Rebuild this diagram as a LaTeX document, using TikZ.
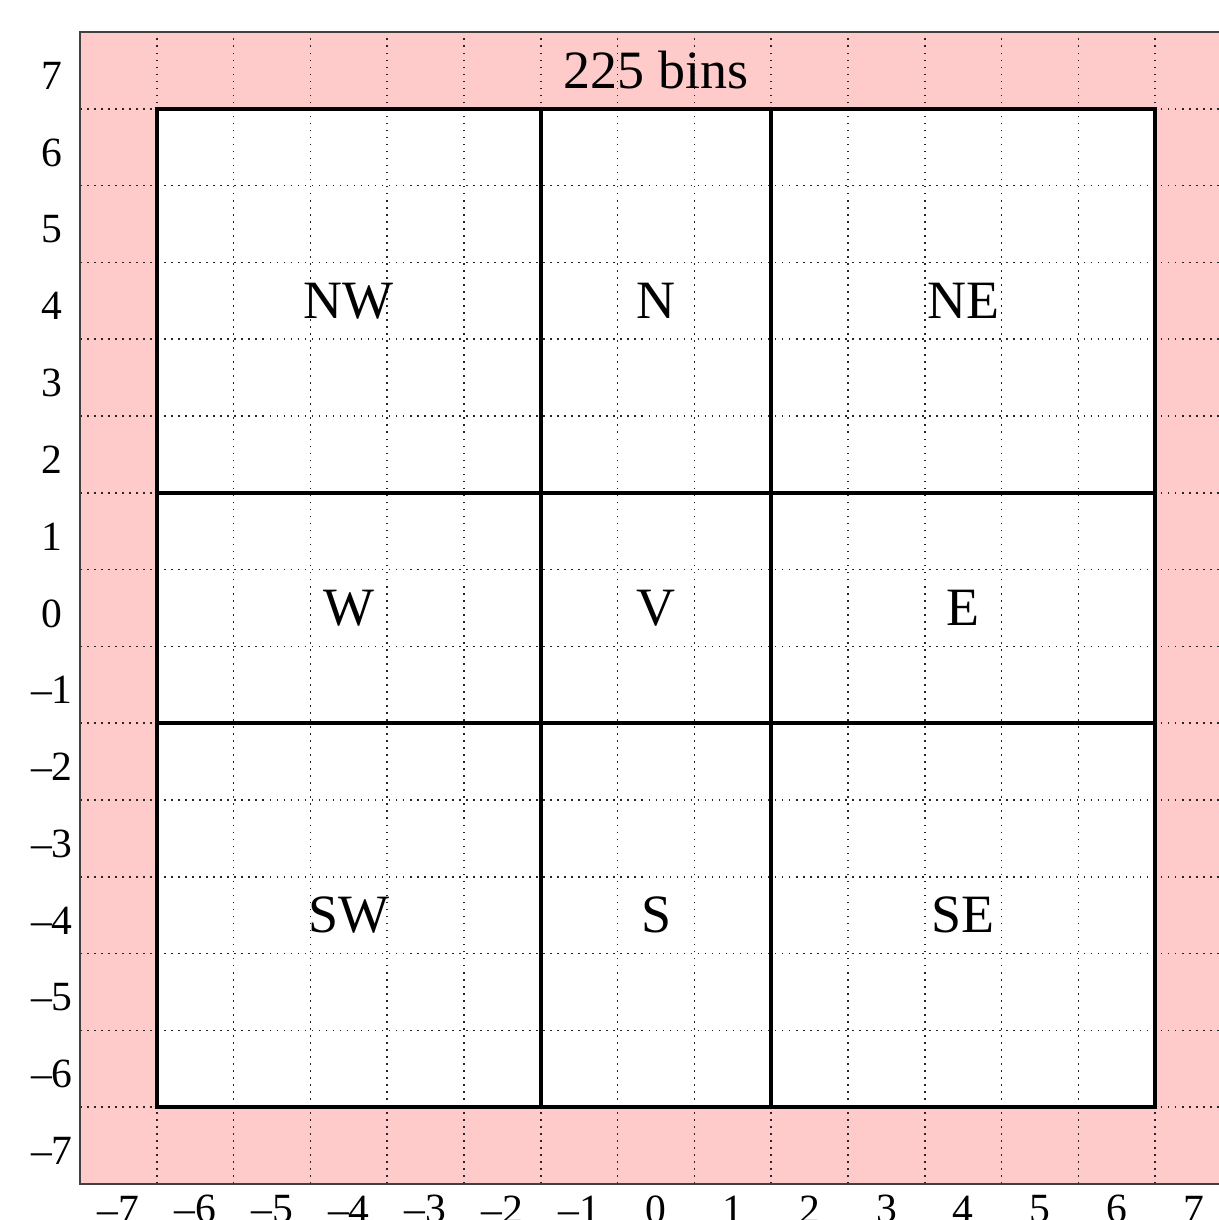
\documentclass[tikz,border=0pt]{standalone}
\usepackage{fontspec}
\setmainfont{Liberation Serif}
\definecolor{binpink}{RGB}{255,202,202}
\newcommand{\ticktext}[1]{\ifnum#1<0 \textendash\number\numexpr-#1\relax\else#1\fi}
\begin{document}
\begin{tikzpicture}[x=1cm,y=1cm,
  region/.style={font=\fontsize{20}{24}\selectfont, inner sep=1pt},
  ticklabel/.style={font=\fontsize{15.4}{18}\selectfont, inner sep=0pt},
  border/.style={black, line width=1.4pt},
  frameline/.style={black!75, line width=0.9pt},
  gridline/.style={black!85, dotted, line width=0.6pt}]
\useasboundingbox (-8.542,-7.968) rectangle (7.318,7.917);

% Outer ring of bins and inner area
\fill[binpink] (-7.5,-7.5) rectangle (7.5,7.5);
\fill[white] (-6.5,-6.5) rectangle (6.5,6.5);

% Dotted bin edges
\foreach \g in {-6.5,-5.5,...,6.5} {
  \draw[gridline] (\g,-7.5) -- (\g,7.5);
  \draw[gridline] (-7.5,\g) -- (7.5,\g);
}
\draw[frameline] (-7.5,-7.5) rectangle (7.5,7.5);

% Nine regions
\draw[border] (-6.5,-6.5) rectangle (6.5,6.5);
\draw[border] (-1.5,-6.5) -- (-1.5,6.5);
\draw[border] (1.5,-6.5) -- (1.5,6.5);
\draw[border] (-6.5,-1.5) -- (6.5,-1.5);
\draw[border] (-6.5,1.5) -- (6.5,1.5);

\node[region] (title) at (0,7) {225 bins};
\node[region] (nw) at (-4,4) {NW};
\node[region] (n) at (0,4) {N};
\node[region] (ne) at (4,4) {NE};
\node[region] (w) at (-4,0) {W};
\node[region] (v) at (0,0) {V};
\node[region] (e) at (4,0) {E};
\node[region] (sw) at (-4,-4) {SW};
\node[region] (s) at (0,-4) {S};
\node[region] (se) at (4,-4) {SE};

% Axis numbers
\foreach \t in {-7,...,7} {
  \node[ticklabel] (xt\t) at (\t,-7.83) {\ticktext{\t}};
  \node[ticklabel] (yt\t) at (-7.865,\t-0.07) {\ticktext{\t}};
}

\end{tikzpicture}
\end{document}
